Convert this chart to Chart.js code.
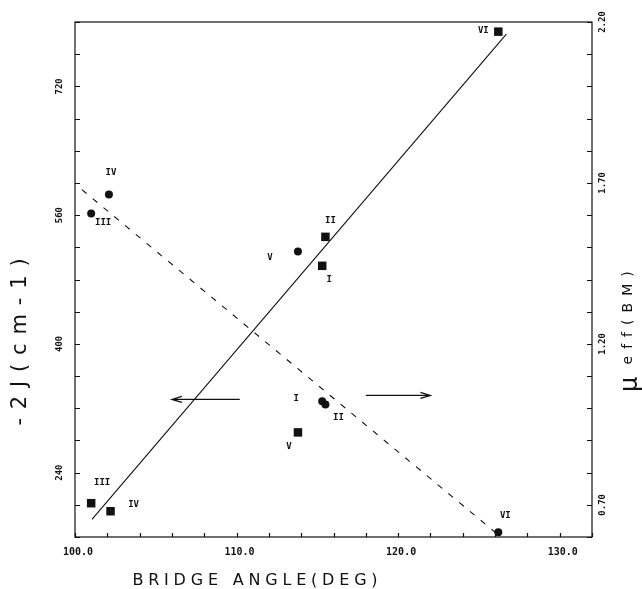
<!DOCTYPE html>
<html><head><meta charset="utf-8">
<script src="https://cdn.jsdelivr.net/npm/chart.js@4/dist/chart.umd.min.js"></script>
<style>html,body{margin:0;padding:0;background:#fff}#wrap{width:642px;height:589px}</style>
</head><body><div id="wrap"><canvas id="c" width="642" height="589"></canvas></div>
<script>
// ---- data ----
const complexes = ['I', 'II', 'III', 'IV', 'V', 'VI'];
const angleJ = [115.3, 115.5, 101.0, 102.2, 113.8, 126.2];
const minus2J = [497, 533, 202, 192, 290, 788];
const angleMu = [115.3, 115.5, 101.0, 102.1, 113.8, 126.2];
const muEff = [1.022, 1.012, 1.605, 1.664, 1.487, 0.615];
const fitJx = [101.05, 126.7];
const fitJy = [182, 785];
const fitMux = [100.43, 126.0];
const fitMuy = [1.679, 0.615];
const xTickLabels = ['100.0', '110.0', '120.0', '130.0'];
const leftTickLabels = ['240', '400', '560', '720'];
const rightTickLabels = ['0.70', '1.20', '1.70', '2.20'];
const arrowJ = [[110.2, 331], [106.0, 331]];
const arrowMu = [[118.0, 1.04], [122.0, 1.04]];

// ---- style (label offsets in px) ----
const offJ = [[7, 14], [5, -16], [11, -21], [23, -7], [-9, 14], [-15, -1]];
const offMu = [[-26, -3], [13, 13], [12, 9], [2, -22], [-28, 6], [7, -17]];

const ink = '#111';

function fitText(ctx, text, cx, cy, width, font, rot) {
  ctx.save();
  ctx.translate(cx, cy);
  ctx.rotate(rot || 0);
  ctx.font = font;
  ctx.letterSpacing = '0px';
  const w0 = ctx.measureText(text).width;
  const n = text.length;
  const ls = (width - w0) / n;
  ctx.letterSpacing = ls + 'px';
  ctx.textAlign = 'left';
  ctx.textBaseline = 'middle';
  ctx.fillText(text, -width / 2 + ls / 2, 0);
  ctx.restore();
}

const annot = {
  id: 'annot',
  afterDraw(chart) {
    const { ctx, chartArea: a, scales } = chart;
    const X = scales.x, YJ = scales.yJ, YM = scales.yMu;
    ctx.save();
    ctx.strokeStyle = ink; ctx.fillStyle = ink; ctx.lineWidth = 1.2;
    ctx.strokeRect(a.left, a.top, a.right - a.left, a.bottom - a.top);
    ctx.beginPath();
    for (let v = X.min; v <= X.max + 1e-6; v += 2) {
      const p = Math.round(X.getPixelForValue(v)) + 0.5;
      ctx.moveTo(p, a.bottom); ctx.lineTo(p, a.bottom - 4);
    }
    for (let v = YJ.min; v <= YJ.max + 1e-6; v += 40) {
      const p = Math.round(YJ.getPixelForValue(v)) + 0.5;
      ctx.moveTo(a.left, p); ctx.lineTo(a.left + 5, p);
    }
    for (let i = 0; i <= 16; i++) {
      const p = Math.round(YM.getPixelForValue(YM.min + i * 0.1)) + 0.5;
      ctx.moveTo(a.right, p); ctx.lineTo(a.right - 5, p);
    }
    ctx.stroke();

    // tick labels
    ctx.font = 'bold 10px "DejaVu Sans Mono"';
    ctx.textAlign = 'center'; ctx.textBaseline = 'middle';
    xTickLabels.forEach(t => {
      ctx.fillText(t, X.getPixelForValue(parseFloat(t)) + 3, a.bottom + 15);
    });
    ctx.font = 'bold 9px "DejaVu Sans Mono"';
    leftTickLabels.forEach(t => {
      ctx.save(); ctx.translate(a.left - 15, YJ.getPixelForValue(parseFloat(t)));
      ctx.rotate(-Math.PI / 2); ctx.fillText(t, 0, 0); ctx.restore();
    });
    rightTickLabels.forEach(t => {
      ctx.save(); ctx.translate(a.right + 11, YM.getPixelForValue(parseFloat(t)));
      ctx.rotate(-Math.PI / 2); ctx.fillText(t, 0, 0); ctx.restore();
    });

    // point labels
    ctx.font = 'bold 9px "DejaVu Sans Mono"';
    complexes.forEach((c, i) => {
      ctx.fillText(c, X.getPixelForValue(angleJ[i]) + offJ[i][0], YJ.getPixelForValue(minus2J[i]) + offJ[i][1]);
      ctx.fillText(c, X.getPixelForValue(angleMu[i]) + offMu[i][0], YM.getPixelForValue(muEff[i]) + offMu[i][1]);
    });

    // arrows
    ctx.lineWidth = 1.2;
    function arrow(x1, y1, x2, y2) {
      ctx.beginPath(); ctx.moveTo(x1, y1); ctx.lineTo(x2, y2);
      const d = Math.sign(x2 - x1);
      ctx.moveTo(x2 - d * 10, y2 - 3); ctx.lineTo(x2, y2); ctx.lineTo(x2 - d * 10, y2 + 3);
      ctx.stroke();
    }
    arrow(X.getPixelForValue(arrowJ[0][0]), YJ.getPixelForValue(arrowJ[0][1]),
          X.getPixelForValue(arrowJ[1][0]), YJ.getPixelForValue(arrowJ[1][1]));
    arrow(X.getPixelForValue(arrowMu[0][0]), YM.getPixelForValue(arrowMu[0][1]),
          X.getPixelForValue(arrowMu[1][0]), YM.getPixelForValue(arrowMu[1][1]));

    // axis titles
    fitText(ctx, 'BRIDGE ANGLE(DEG)', 255, 581, 250, '16px "DejaVu Sans"', 0);
    fitText(ctx, '-2J(cm-1)', 21, 342, 176, '21px "DejaVu Sans"', -Math.PI / 2);
    // right title: mu + eff(BM)
    ctx.save();
    ctx.translate(629, 0); ctx.rotate(-Math.PI / 2);
    ctx.textBaseline = 'middle'; ctx.textAlign = 'left';
    ctx.font = '24px "DejaVu Sans"';
    ctx.fillText('\u03bc', -392, 2);
    ctx.restore();
    fitText(ctx, 'eff(BM)', 628, 318, 100, '14px "DejaVu Sans"', -Math.PI / 2);
    ctx.restore();
  }
};

new Chart(document.getElementById('c'), {
  type: 'scatter',
  data: {
    datasets: [
      { label: '-2J', data: angleJ.map((x, i) => ({ x, y: minus2J[i] })), yAxisID: 'yJ',
        pointStyle: 'rect', pointRadius: 6, backgroundColor: ink, borderColor: ink, borderWidth: 0, showLine: false },
      { label: 'mu', data: angleMu.map((x, i) => ({ x, y: muEff[i] })), yAxisID: 'yMu',
        pointStyle: 'circle', pointRadius: 4, backgroundColor: ink, borderColor: ink, borderWidth: 0, showLine: false },
      { label: 'fitJ', data: fitJx.map((x, i) => ({ x, y: fitJy[i] })), yAxisID: 'yJ',
        showLine: true, pointRadius: 0, borderColor: ink, borderWidth: 1.1, fill: false },
      { label: 'fitMu', data: fitMux.map((x, i) => ({ x, y: fitMuy[i] })), yAxisID: 'yMu',
        showLine: true, pointRadius: 0, borderColor: ink, borderWidth: 1.1, borderDash: [6, 8], fill: false }
    ]
  },
  options: {
    responsive: false, animation: false, devicePixelRatio: 1,
    layout: { padding: { left: 75, right: 50, top: 22, bottom: 52 } },
    plugins: { legend: { display: false }, tooltip: { enabled: false } },
    scales: {
      x: { type: 'linear', min: 100, max: 132, display: false },
      yJ: { type: 'linear', position: 'left', min: 160, max: 800, display: false },
      yMu: { type: 'linear', position: 'right', min: 0.6, max: 2.2, display: false }
    }
  },
  plugins: [annot]
});
</script>
</body></html>
